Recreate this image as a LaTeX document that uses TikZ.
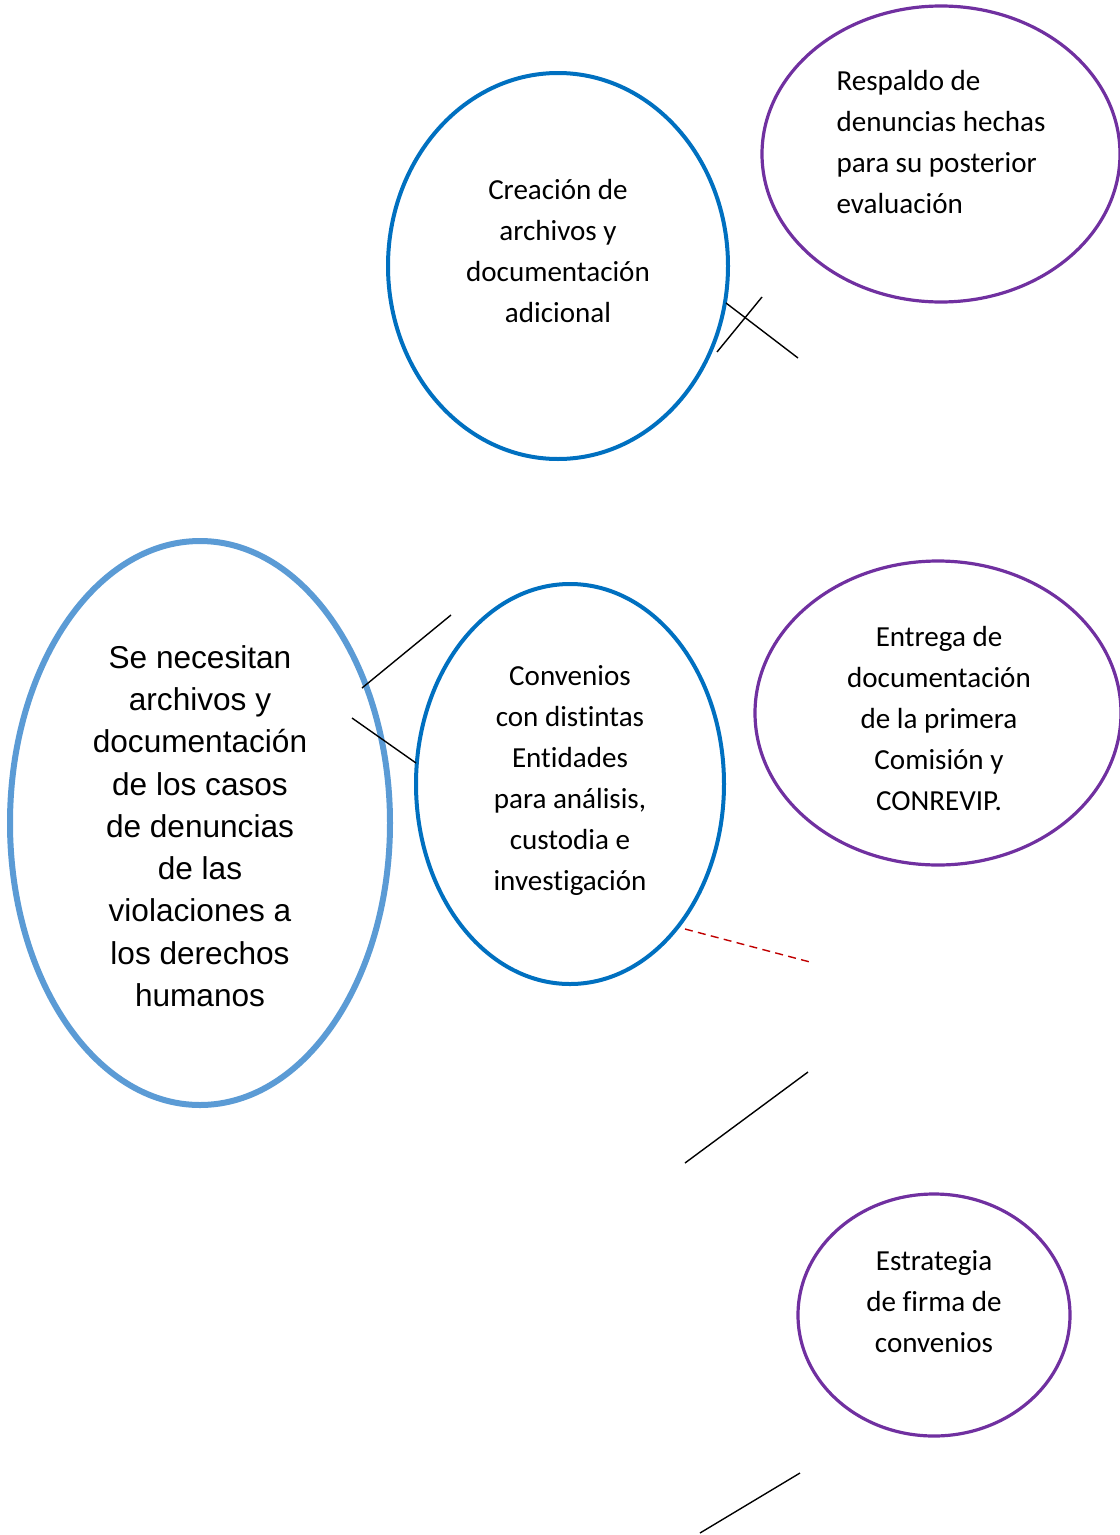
\documentclass[tikz,border=0pt]{standalone}
\usepackage{fontspec}
\setmainfont{Carlito}[Ligatures=NoCommon]
\newfontfamily\arialf{Liberation Sans}
\usetikzlibrary{shapes.geometric}
\definecolor{dblue}{HTML}{0070C0}
\definecolor{lblue}{HTML}{5B9BD5}
\definecolor{purp}{HTML}{7030A0}
\definecolor{dred}{HTML}{C00000}
\begin{document}
\begin{tikzpicture}[x=0.75pt,y=-0.75pt,
  ell/.style={ellipse, inner sep=0pt, outer sep=0pt},
  blueell/.style={ell, draw=dblue, line width=3pt},
  purpell/.style={ell, draw=purp, line width=2.4pt},
  bigell/.style={ell, draw=lblue, line width=4.5pt},
  txt/.style={align=center, font=\fontsize{21.8pt}{30.75pt}\selectfont, inner sep=0pt},
  txtl/.style={align=left, font=\fontsize{21.8pt}{30.75pt}\selectfont, inner sep=0pt},
  bigtxt/.style={align=center, font=\arialf\fontsize{23.7pt}{31.7pt}\selectfont, inner sep=0pt},
  conn/.style={black, line width=1.05pt},
  dconn/.style={dred, line width=1.05pt, dash pattern=on 6pt off 4pt}]
\useasboundingbox (0,0) rectangle (1120,1535);
\clip (0,0) rectangle (1120,1535);

\node[blueell, minimum width=340*0.75pt, minimum height=386*0.75pt] (cre) at (558,266) {};
\node[txt] (creT) at (558,251) {Creación de\\archivos y\\documentación\\adicional};

\node[purpell, minimum width=358*0.75pt, minimum height=296*0.75pt] (res) at (941,154) {};
\node[txtl] (resT) at (941,142) {Respaldo de\\denuncias hechas\\para su posterior\\evaluación};

\node[bigell, minimum width=380*0.75pt, minimum height=564*0.75pt] (big) at (200,823) {};
\node[bigtxt] (bigT) at (200,826) {Se necesitan\\archivos y\\documentación\\de los casos\\de denuncias\\de las\\violaciones a\\los derechos\\humanos};

\node[blueell, minimum width=308*0.75pt, minimum height=400*0.75pt] (con) at (570,784) {};
\node[txt] (conT) at (570,780) {Convenios\\con distintas\\Entidades\\para análisis,\\custodia e\\investigación};

\node[purpell, minimum width=366*0.75pt, minimum height=304*0.75pt] (ent) at (938,713) {};
\node[txt] (entT) at (939,719) {Entrega de\\documentación\\de la primera\\Comisión y\\CONREVIP.};

\node[purpell, minimum width=272*0.75pt, minimum height=242*0.75pt] (est) at (934,1315) {};
\node[txt] (estT) at (934,1302) {Estrategia\\de firma de\\convenios};

\coordinate (a1) at (726,303); \coordinate (a2) at (798,358);
\coordinate (b1) at (762,297); \coordinate (b2) at (717,352);
\coordinate (c1) at (362,688); \coordinate (c2) at (451,615);
\coordinate (d1) at (352,718); \coordinate (d2) at (416,763);
\coordinate (e1) at (685,929); \coordinate (e2) at (810,962);
\coordinate (f1) at (685,1163); \coordinate (f2) at (808,1072);
\coordinate (g1) at (700,1533); \coordinate (g2) at (800,1473);

\draw[conn] (a1) -- (a2);
\draw[conn] (b1) -- (b2);
\draw[conn] (c1) -- (c2);
\draw[conn] (d1) -- (d2);
\draw[dconn] (e1) -- (e2);
\draw[conn] (f1) -- (f2);
\draw[conn] (g1) -- (g2);
\end{tikzpicture}
\end{document}
